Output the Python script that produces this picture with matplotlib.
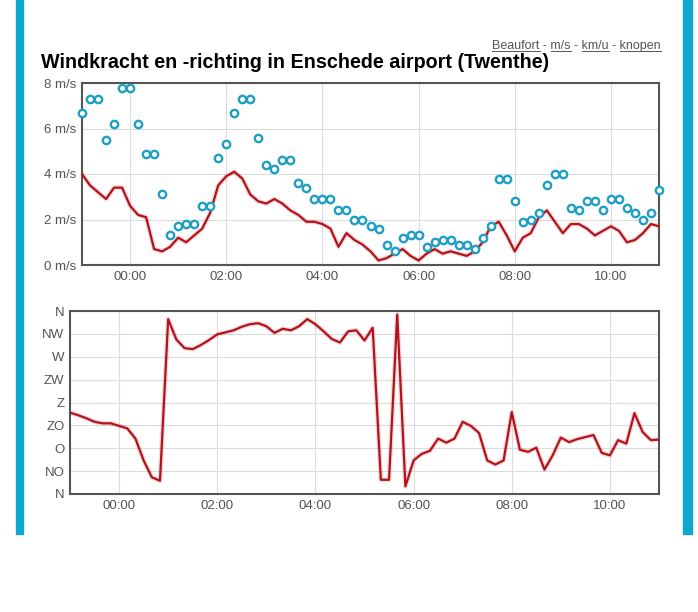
import numpy as np
import pandas as pd
import matplotlib
matplotlib.use('Agg')
import matplotlib.pyplot as plt
import matplotlib.dates as mdates
from matplotlib.patches import Rectangle

plt.rcParams['font.family'] = ['Liberation Sans', 'DejaVu Sans']

# 10-minute observations, 23:00 - 11:00
times = pd.date_range('2024-01-01 23:00', periods=73, freq='10min')

speed = [4.0, 3.5, 3.2, 2.9, 3.4, 3.4, 2.6, 2.2, 2.1, 0.7, 0.6, 0.8, 1.2,
         1.0, 1.3, 1.6, 2.3, 3.5, 3.9, 4.1, 3.8, 3.1, 2.8, 2.7, 2.9,
         2.7, 2.4, 2.2, 1.9, 1.9, 1.8, 1.6, 0.8, 1.4, 1.1, 0.9, 0.6,
         0.2, 0.3, 0.5, 0.7, 0.4, 0.2, 0.5, 0.7, 0.5, 0.6, 0.5, 0.4,
         0.6, 1.0, 1.7, 1.9, 1.3, 0.6, 1.2, 1.4, 2.1, 2.4, 1.9, 1.4,
         1.8, 1.8, 1.6, 1.3, 1.5, 1.7, 1.5, 1.0, 1.1, 1.4, 1.8, 1.7]

gusts = [6.7, 7.3, 7.3, 5.5, 6.2, 7.8, 7.8, 6.2, 4.9, 4.9, 3.1, 1.3, 1.7,
         1.8, 1.8, 2.6, 2.6, 4.7, 5.3, 6.7, 7.3, 7.3, 5.6, 4.4, 4.2,
         4.6, 4.6, 3.6, 3.4, 2.9, 2.9, 2.9, 2.4, 2.4, 2.0, 2.0, 1.7,
         1.6, 0.9, 0.6, 1.2, 1.3, 1.3, 0.8, 1.0, 1.1, 1.1, 0.9, 0.9,
         0.7, 1.2, 1.7, 3.8, 3.8, 2.8, 1.9, 2.0, 2.3, 3.5, 4.0, 4.0,
         2.5, 2.4, 2.8, 2.8, 2.4, 2.9, 2.9, 2.5, 2.3, 2.0, 2.3, 3.3]

direction = [160, 155, 149, 142, 139, 139, 134, 129, 109, 66, 33, 26, 344,
             304, 287, 285, 293, 303, 314, 318, 322, 329, 334, 336, 330,
             317, 325, 322, 330, 344, 334, 320, 305, 298, 320, 322, 302,
             327, 28, 28, 353, 15, 66, 79, 85, 109, 101, 109, 142,
             134, 120, 66, 58, 66, 161, 87, 83, 91, 48, 76, 111,
             102, 108, 112, 116, 81, 76, 106, 99, 159, 122, 106, 107]

speed_ticks = [0, 2, 4, 6, 8]
dir_ticks = [0, 45, 90, 135, 180, 225, 270, 315, 360]
dir_labels = ['N', 'NO', 'O', 'ZO', 'Z', 'ZW', 'W', 'NW', 'N']
unit_links = ['Beaufort', 'm/s', 'km/u', 'knopen']

RED = '#b3121b'
BLUE = '#1f9fc4'
TXT = '#545454'

fig = plt.figure(figsize=(6.98, 6.12), dpi=100)
fig.patch.set_facecolor('white')
W, H = 698.0, 612.0

# blue side bars of the page
fig.patches.append(Rectangle((16 / W, 1 - 534 / H), 7 / W, 534 / H,
                             transform=fig.transFigure, color='#0ea7cd', zorder=0))
fig.patches.append(Rectangle((683 / W, 1 - 534 / H), 9 / W, 534 / H,
                             transform=fig.transFigure, color='#0ea7cd', zorder=0))


def style_axes(ax):
    for s in ax.spines.values():
        s.set_color('#555555')
        s.set_linewidth(1.5)
    ax.grid(True, color='#dcdcdc', lw=0.8)
    ax.set_axisbelow(True)
    ax.tick_params(length=0, colors=TXT, labelsize=9.5, pad=4)
    ax.xaxis.set_major_locator(mdates.HourLocator(byhour=range(0, 24, 2)))
    ax.xaxis.set_major_formatter(mdates.DateFormatter('%H:%M'))
    ax.set_xlim(times[0], times[-1])


# wind speed
ax1 = fig.add_axes([82 / W, 1 - 265 / H, 577 / W, 182 / H])
style_axes(ax1)
ax1.plot(times, speed, color=RED, lw=3.5, alpha=0.15, zorder=2)
ax1.plot(times, speed, color=RED, lw=1.6, zorder=3)
ax1.scatter(times, gusts, s=28, facecolors='white', edgecolors=BLUE,
            linewidths=1.7, zorder=4, clip_on=False)
ax1.set_ylim(0, 8)
ax1.set_yticks(speed_ticks)
ax1.set_yticklabels(['{} m/s'.format(v) for v in speed_ticks])

# wind direction
ax2 = fig.add_axes([70 / W, 1 - 494 / H, 589 / W, 183 / H])
style_axes(ax2)
ax2.plot(times, direction, color=RED, lw=3.5, alpha=0.15, zorder=2)
ax2.plot(times, direction, color=RED, lw=1.6, zorder=3)
ax2.set_ylim(0, 360)
ax2.set_yticks(dir_ticks)
ax2.set_yticklabels(dir_labels)

fig.text(41 / W, 1 - 68 / H, 'Windkracht en -richting in Enschede airport (Twenthe)',
         fontsize=14.2, fontweight='bold', color='black', ha='left', va='baseline')

# unit links, right aligned at x=661, each word underlined
renderer = fig.canvas.get_renderer()
link_str = ' - '.join(unit_links)
fs = 9


def text_width(s):
    t = fig.text(0, 0, s, fontsize=fs)
    w = t.get_window_extent(renderer=renderer).width
    t.remove()
    return w


x0 = 661 - text_width(link_str)
fig.text(x0 / W, 1 - 49 / H, link_str, fontsize=fs, color='#555555',
         ha='left', va='baseline')
prefix = ''
for i, word in enumerate(unit_links):
    end = text_width(prefix + word)
    start = end - text_width(word)
    fig.add_artist(plt.Line2D([(x0 + start) / W, (x0 + end) / W],
                              [1 - 51 / H, 1 - 51 / H], color='#555555', lw=0.7,
                              transform=fig.transFigure))
    prefix += word + ' - '

fig.savefig('out.png', dpi=100, facecolor='white')
